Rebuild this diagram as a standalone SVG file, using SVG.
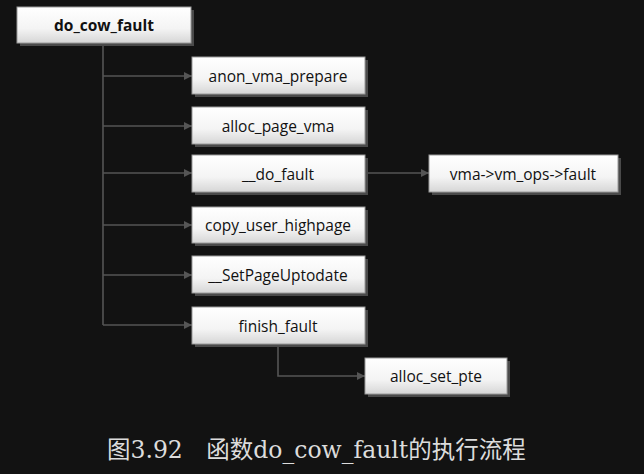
<svg xmlns="http://www.w3.org/2000/svg" width="644" height="474" viewBox="0 0 644 474">
<defs>
<linearGradient id="g" x1="0" y1="0" x2="0" y2="1">
<stop offset="0" stop-color="#ffffff"/>
<stop offset="0.6" stop-color="#f4f4f4"/>
<stop offset="1" stop-color="#d6d6d6"/>
</linearGradient>
<marker id="ah" viewBox="0 0 10 10" refX="10" refY="5" markerWidth="10" markerHeight="8" markerUnits="userSpaceOnUse" orient="auto">
<path d="M0,0 L10,5 L0,10 z" fill="#555"/>
</marker>
<style>
.bg{fill:#121212}
.sh{fill:#4a4a4a}
.bx{fill:url(#g);stroke:#9a9a9a;stroke-width:1}
.t{font-family:"Open Sans","Noto Sans",sans-serif;font-size:15.5px;fill:#111;text-anchor:middle;dominant-baseline:central}
.b{font-weight:bold}
.c{fill:none;stroke:#555;stroke-width:1.6}
.cap{font-family:"DejaVu Serif","Noto Sans CJK SC",serif;font-size:23.5px;fill:#dcdcdc}
</style>
</defs>
<rect class="bg" width="644" height="474"/>
<g id="connectors">
<path class="c" d="M103,44 V325"/>
<path class="c" d="M103,76 H192" marker-end="url(#ah)"/>
<path class="c" d="M103,126 H192" marker-end="url(#ah)"/>
<path class="c" d="M103,173 H192" marker-end="url(#ah)"/>
<path class="c" d="M103,225 H192" marker-end="url(#ah)"/>
<path class="c" d="M103,275 H192" marker-end="url(#ah)"/>
<path class="c" d="M103,325 H192" marker-end="url(#ah)"/>
<path class="c" d="M365,173 H429" marker-end="url(#ah)"/>
<path class="c" d="M278,344 V376 H365" marker-end="url(#ah)"/>
</g>
<g id="do_cow_fault">
<rect class="sh" x="20" y="10" width="174" height="36"/>
<rect class="bx" x="17" y="7" width="174" height="36"/>
<text class="t b" x="104" y="25">do_cow_fault</text>
</g>
<g id="anon_vma_prepare">
<rect class="sh" x="195" y="60" width="173" height="37"/>
<rect class="bx" x="192" y="57" width="173" height="37"/>
<text class="t" x="278" y="75.5">anon_vma_prepare</text>
</g>
<g id="alloc_page_vma">
<rect class="sh" x="195" y="110" width="173" height="37"/>
<rect class="bx" x="192" y="107" width="173" height="37"/>
<text class="t" x="278" y="125.5">alloc_page_vma</text>
</g>
<g id="do_fault">
<rect class="sh" x="195" y="158" width="173" height="37"/>
<rect class="bx" x="192" y="155" width="173" height="37"/>
<text class="t" x="278" y="173.5">__do_fault</text>
</g>
<g id="vm_ops_fault">
<rect class="sh" x="432" y="158" width="189" height="37"/>
<rect class="bx" x="429" y="155" width="189" height="37"/>
<text class="t" x="523" y="173.5">vma-&gt;vm_ops-&gt;fault</text>
</g>
<g id="copy_user_highpage">
<rect class="sh" x="195" y="210" width="173" height="36"/>
<rect class="bx" x="192" y="207" width="173" height="36"/>
<text class="t" x="278" y="225">copy_user_highpage</text>
</g>
<g id="SetPageUptodate">
<rect class="sh" x="195" y="259" width="173" height="37"/>
<rect class="bx" x="192" y="256" width="173" height="37"/>
<text class="t" x="278" y="274.5">__SetPageUptodate</text>
</g>
<g id="finish_fault">
<rect class="sh" x="195" y="310" width="173" height="37"/>
<rect class="bx" x="192" y="307" width="173" height="37"/>
<text class="t" x="278" y="325.5">finish_fault</text>
</g>
<g id="alloc_set_pte">
<rect class="sh" x="368" y="361" width="142" height="36"/>
<rect class="bx" x="365" y="358" width="142" height="36"/>
<text class="t" x="436" y="376">alloc_set_pte</text>
</g>
<text class="cap" x="107" y="458">图3.92　函数do_cow_fault的执行流程</text>
</svg>
